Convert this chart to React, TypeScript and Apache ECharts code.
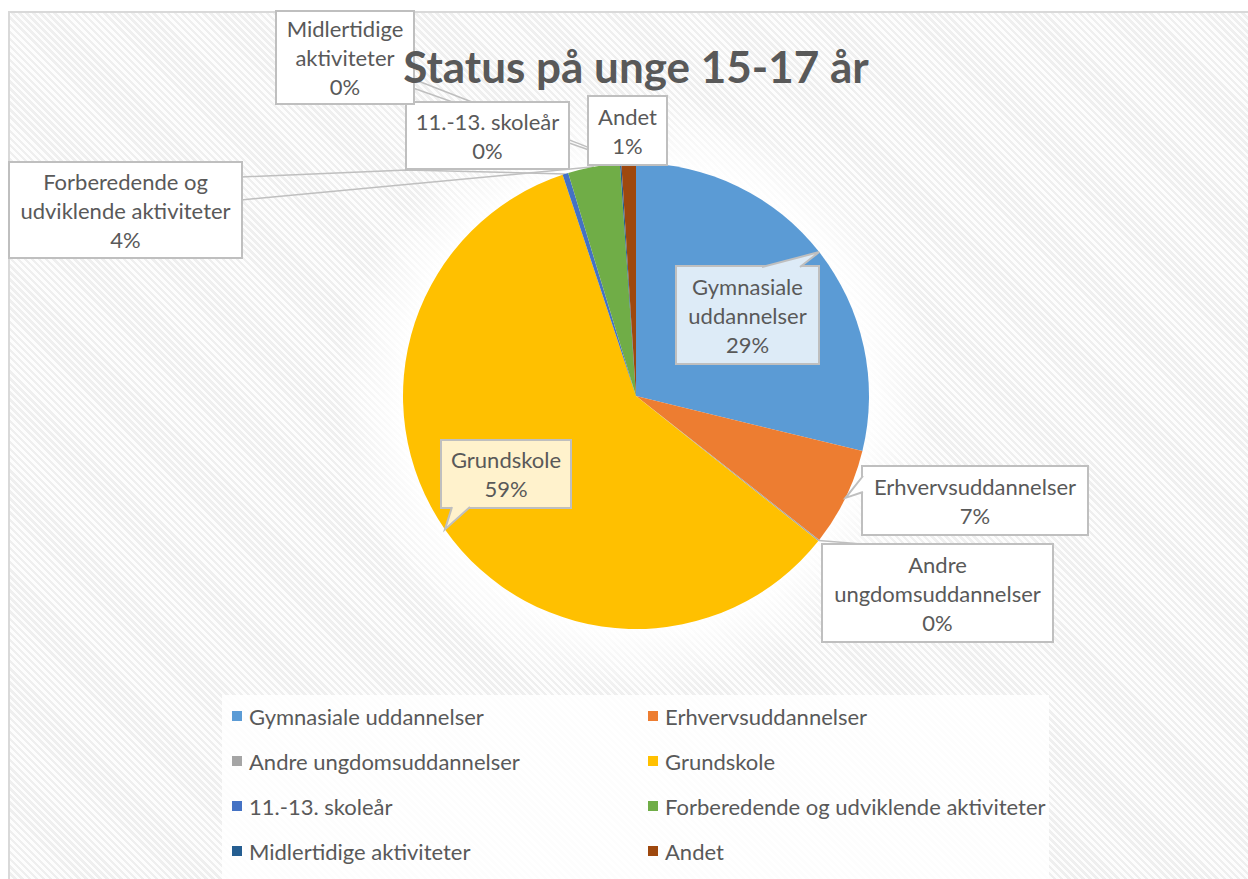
import React, { useEffect, useRef } from "react";
import * as echarts from "echarts";

// ---------- data ----------
const categories = [
  "Gymnasiale uddannelser",
  "Erhvervsuddannelser",
  "Andre ungdomsuddannelser",
  "Grundskole",
  "11.-13. skoleår",
  "Forberedende og udviklende aktiviteter",
  "Midlertidige aktiviteter",
  "Andet",
];
const shares = [28.8, 6.8, 0.1, 59.2, 0.4, 3.6, 0.1, 1.0];
const labelNames = [
  "Gymnasiale\nuddannelser",
  "Erhvervsuddannelser",
  "Andre\nungdomsuddannelser",
  "Grundskole",
  "11.-13. skoleår",
  "Forberedende og\nudviklende aktiviteter",
  "Midlertidige\naktiviteter",
  "Andet",
];
const colors = ["#5B9BD5", "#ED7D31", "#A5A5A5", "#FFC000", "#4472C4", "#70AD47", "#255E91", "#9E480E"];
const legendLeftIdx = [0, 2, 4, 6];
const legendRightIdx = [1, 3, 5, 7];
const titleText = "Status på unge 15-17 år";

// ---------- layout ----------
const CX = 636, CY = 396, R = 233;
const BOXES = [
  [677, 267, 818, 363],
  [863, 467, 1087, 534],
  [823, 545, 1052, 641],
  [442, 441, 570, 507],
  [407, 103, 568, 168],
  [10, 163, 241, 257],
  [277, 12, 413, 103],
  [589, 97, 666, 164],
];
const BOX_FILL = ["#DDEBF7", "#FFFFFF", "#FFFFFF", "#FFF2CC", "#FFFFFF", "#FFFFFF", "#FFFFFF", "#FFFFFF"];
const LEADERS: Record<number, number[][]> = {
  2: [[862, 544]],
  4: [[407, 170], [241, 177]],
  5: [[241, 200]],
  6: [[589, 150], [413, 88]],
  7: [[413, 79]],
};
const BUBBLES: Record<number, { base: number[][]; inward: number[] }> = {
  0: { base: [[762, 267], [800, 267]], inward: [0, 1] },
  1: { base: [[863, 476], [863, 492]], inward: [1, 0] },
  3: { base: [[452, 507], [470, 507]], inward: [0, -1] },
};
const FONT = "Lato, 'Open Sans', sans-serif";
const GRAY = "#595959";
const BORDER = "#BFBFBF";

function tipPoint(i: number): number[] {
  const total = shares.reduce((a, b) => a + b, 0);
  let cum = 0;
  for (let k = 0; k < i; k++) cum += shares[k];
  const a = ((cum + shares[i] / 2) / total) * Math.PI * 2;
  return [CX + R * Math.sin(a), CY - R * Math.cos(a)];
}

export default function App() {
  const ref = useRef<HTMLDivElement>(null);
  useEffect(() => {
    if (!ref.current) return;
    const chart = echarts.init(ref.current, null, { renderer: "svg" });

    const graphics: any[] = [
      {
        type: "circle",
        z: -5,
        shape: { cx: CX, cy: CY, r: 300 },
        style: {
          fill: new echarts.graphic.RadialGradient(0.5, 0.5, 0.5, [
            { offset: 0, color: "rgba(255,255,255,1)" },
            { offset: 0.77, color: "rgba(255,255,255,0.95)" },
            { offset: 1, color: "rgba(255,255,255,0)" },
          ]),
        },
        silent: true,
      },
      {
        type: "rect",
        z: -4,
        shape: { x: 222, y: 695, width: 827, height: 200 },
        style: { fill: "rgba(255,255,255,0.85)" },
        silent: true,
      },
      {
        type: "text",
        z: 50,
        x: CX,
        y: 66,
        style: {
          text: titleText,
          fill: GRAY,
          font: `bold 44px ${FONT}`,
          textAlign: "center",
          textVerticalAlign: "middle",
        },
        silent: true,
      },
    ];
    Object.keys(BUBBLES).forEach((k) => {
      const i = Number(k);
      const b = BUBBLES[i];
      const t = tipPoint(i);
      const [p0, p1] = b.base;
      const d = 3;
      graphics.push({
        type: "polygon",
        z: 100,
        shape: {
          points: [
            [p0[0] + b.inward[0] * d, p0[1] + b.inward[1] * d],
            p0,
            t,
            p1,
            [p1[0] + b.inward[0] * d, p1[1] + b.inward[1] * d],
          ],
        },
        style: { fill: BOX_FILL[i], stroke: null },
        silent: true,
      });
      graphics.push({
        type: "polyline",
        z: 101,
        shape: { points: [p0, t, p1] },
        style: { stroke: BORDER, lineWidth: 2, fill: null },
        silent: true,
      });
    });

    const legendCommon = {
      orient: "vertical",
      top: 705,
      padding: 0,
      itemWidth: 10,
      itemHeight: 10,
      itemGap: 23,
      icon: "rect",
      selectedMode: false,
      textStyle: { fontSize: 22, lineHeight: 22, color: GRAY, fontFamily: FONT, padding: [0, 0, 0, 2] },
    };

    const option: any = {
      animation: false,
      color: colors,
      graphic: graphics,
      legend: [
        { ...legendCommon, left: 232, data: legendLeftIdx.map((i) => categories[i]) },
        { ...legendCommon, left: 648, data: legendRightIdx.map((i) => categories[i]) },
      ],
      series: [
        {
          type: "pie",
          center: [CX, CY],
          radius: R,
          startAngle: 90,
          clockwise: true,
          avoidLabelOverlap: false,
          silent: true,
          emphasis: { disabled: true },
          itemStyle: { borderWidth: 0 },
          label: {
            show: true,
            position: "outside",
            formatter: (p: any) => `${labelNames[p.dataIndex]}\n${Math.round(p.percent)}%`,
            color: GRAY,
            fontFamily: FONT,
            fontSize: 22,
            lineHeight: 29,
            align: "center",
            verticalAlign: "middle",
            borderColor: BORDER,
            borderWidth: 2,
            padding: 0,
            overflow: "none",
          },
          labelLine: {
            show: true,
            lineStyle: { color: BORDER, width: 1.5 },
          },
          labelLayout: (p: any) => {
            const i = p.dataIndex;
            const b = BOXES[i];
            const res: any = {
              x: (b[0] + b[2]) / 2,
              y: (b[1] + b[3]) / 2,
              align: "center",
              verticalAlign: "middle",
            };
            if (LEADERS[i]) res.labelLinePoints = [tipPoint(i), ...LEADERS[i]];
            return res;
          },
          data: categories.map((name, i) => ({
            name,
            value: shares[i],
            label: {
              width: BOXES[i][2] - BOXES[i][0],
              height: BOXES[i][3] - BOXES[i][1],
              backgroundColor: BOX_FILL[i],
            },
            labelLine: { show: !!LEADERS[i] },
          })),
        },
      ],
    };
    chart.setOption(option);
    return () => chart.dispose();
  }, []);

  return (
    <div
      style={{
        position: "absolute",
        left: 0,
        top: 0,
        width: 1248,
        height: 879,
        overflow: "hidden",
        background: "#ffffff",
      }}
    >
      <div
        style={{
          position: "absolute",
          left: 8,
          top: 11,
          width: 1300,
          height: 1000,
          border: "2px solid #d9d9d9",
          background:
            "repeating-linear-gradient(45deg, #fdfdfd 0px, #fdfdfd 2.5px, #efefef 2.5px, #efefef 5px)",
        }}
      />
      <div ref={ref} style={{ position: "absolute", left: 0, top: 0, width: 1248, height: 879 }} />
    </div>
  );
}
